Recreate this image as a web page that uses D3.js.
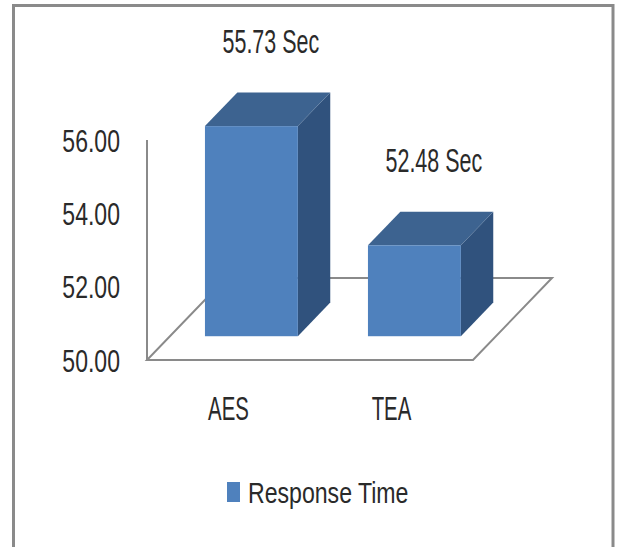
<!DOCTYPE html>
<html>
<head>
<meta charset="utf-8">
<script src="https://cdn.jsdelivr.net/npm/d3@7"></script>
<style>
	body { margin: 0; background: #fff; }
	text { font-family: "Liberation Sans", Arial, sans-serif; fill: #2a2a2a; }
</style>
</head>
<body>
<script>
var categories = ["AES", "TEA"];
var responseTimes = [55.73, 52.48];
var valueLabels = ["55.73 Sec", "52.48 Sec"];
var tickValues = [50, 52, 54, 56];
var seriesName = "Response Time";

var width = 619, height = 547;

var svg = d3.select("body").append("svg")
	.attr("width", width)
	.attr("height", height);

// outer frame, bottom edge falls outside the picture
svg.append("rect")
	.attr("x", 13.5).attr("y", 5.5)
	.attr("width", 599.5).attr("height", 560)
	.attr("fill", "none")
	.attr("stroke", "#8a8a8a")
	.attr("stroke-width", 3);

var floorLeft = 147, floorRight = 473, floorY = 360;
var depth = { dx: 79, dy: -82 },
	barFront = 0.29,
	barBack = 0.70;

var x = d3.scaleBand()
	.domain(categories)
	.range([floorLeft, floorRight])
	.paddingInner(0.43)
	.paddingOuter(0.215);

var y = d3.scaleLinear()
	.domain([50, 56])
	.range([floorY, 140]);

// floor and value axis line
var floor = [
	[floorLeft, floorY],
	[floorRight, floorY],
	[floorRight + depth.dx, floorY + depth.dy],
	[floorLeft + depth.dx, floorY + depth.dy]
];
svg.append("path")
	.attr("d", d3.line()(floor) + "Z")
	.attr("fill", "none")
	.attr("stroke", "#8a8a8a")
	.attr("stroke-width", 2);

svg.append("line")
	.attr("x1", floorLeft).attr("x2", floorLeft)
	.attr("y1", y(56)).attr("y2", floorY)
	.attr("stroke", "#8a8a8a")
	.attr("stroke-width", 2);

// tick labels, drawn narrow like the original condensed font
var ticks = svg.append("g");
tickValues.forEach(function(t) {
	ticks.append("text")
		.attr("transform", "translate(120," + y(t) + ") scale(0.72,1)")
		.attr("text-anchor", "end")
		.attr("dy", "0.36em")
		.attr("font-size", 32)
		.text(d3.format(".2f")(t));
});

// 3d bars
var bars = svg.append("g");
categories.forEach(function(c, i) {
	var v = responseTimes[i],
		w = x.bandwidth(),
		fx = x(c) + depth.dx * barFront,
		fyOff = depth.dy * barFront,
		bdx = depth.dx * (barBack - barFront),
		bdy = depth.dy * (barBack - barFront),
		top = y(v) + fyOff,
		bottom = floorY + fyOff;

	var side = [[fx + w, top], [fx + w + bdx, top + bdy], [fx + w + bdx, bottom + bdy], [fx + w, bottom]];
	var lid = [[fx, top], [fx + bdx, top + bdy], [fx + w + bdx, top + bdy], [fx + w, top]];

	bars.append("path").attr("d", d3.line()(side) + "Z").attr("fill", "#30527d");
	bars.append("path").attr("d", d3.line()(lid) + "Z").attr("fill", "#3d6390");
	bars.append("rect")
		.attr("x", fx).attr("y", top)
		.attr("width", w).attr("height", bottom - top)
		.attr("fill", "#4f81bd");

	svg.append("text")
		.attr("transform", "translate(" + (fx + w / 2 + bdx * 0.6) + "," + (top + bdy / 2 - 56) + ") scale(0.65,1)")
		.attr("text-anchor", "middle")
		.attr("font-size", 33)
		.text(valueLabels[i]);

	svg.append("text")
		.attr("transform", "translate(" + (x(c) + w / 2) + ",420) scale(0.6,1)")
		.attr("text-anchor", "middle")
		.attr("font-size", 34)
		.text(c);
});

// legend
var legend = svg.append("g").attr("transform", "translate(227,482)");
legend.append("rect")
	.attr("width", 13).attr("height", 20)
	.attr("fill", "#4f81bd");
legend.append("text")
	.attr("transform", "translate(21,21) scale(0.77,1)")
	.attr("font-size", 30)
	.text(seriesName);
</script>
</body>
</html>
